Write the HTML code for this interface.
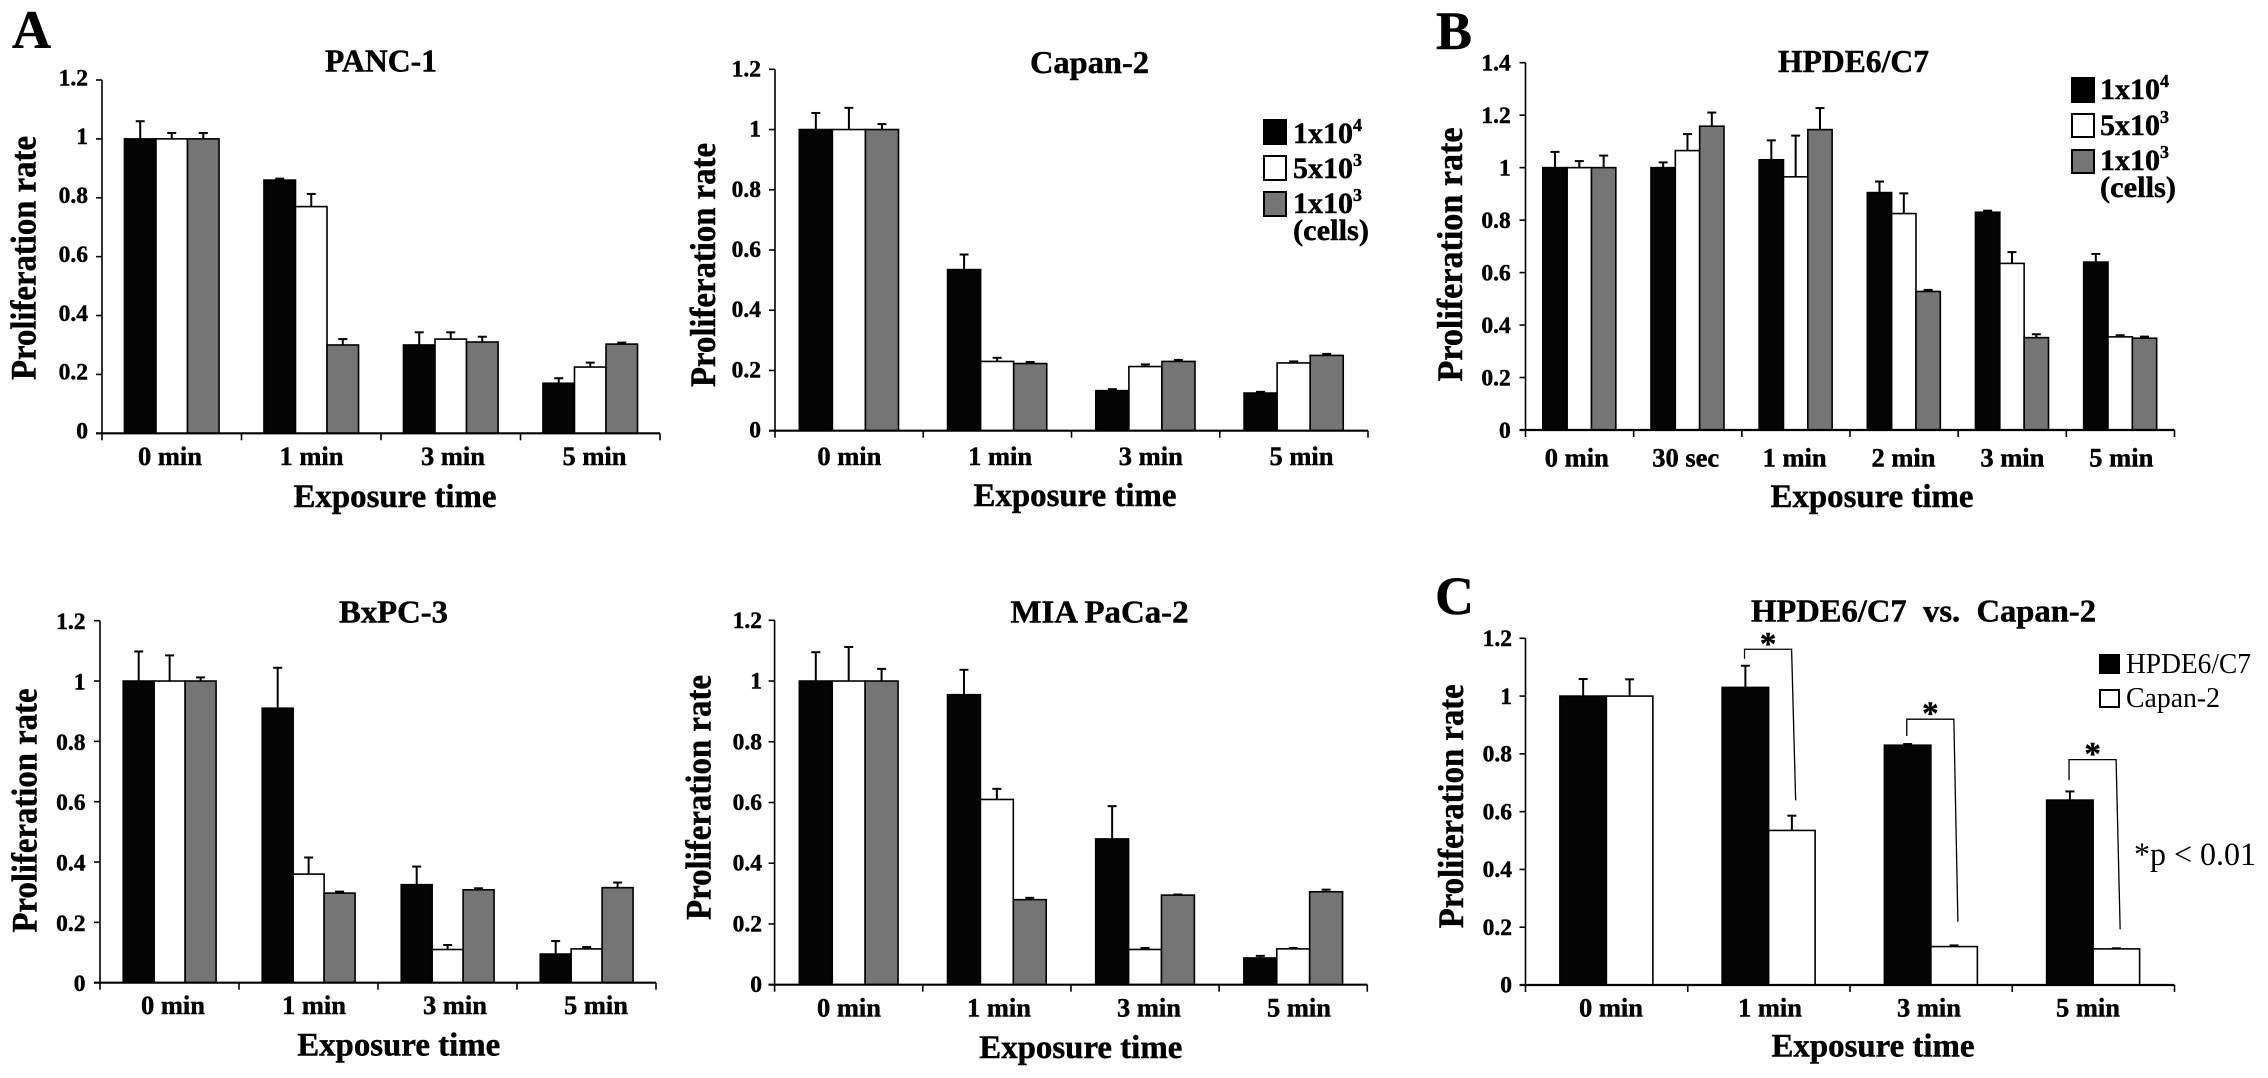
<!DOCTYPE html>
<html lang="en">
<head>
<meta charset="utf-8">
<title>Proliferation rate by exposure time</title>
<style>
html,body{margin:0;padding:0;background:#fff;}
#figure{display:block;width:2268px;height:1078px;background:#fff;}
text{font-family:"Liberation Serif","Times New Roman",serif;fill:#000;}
text[font-weight="700"]{stroke:#000;stroke-width:0.45px;}
</style>
</head>
<body>
<svg id="figure" xmlns="http://www.w3.org/2000/svg" width="2268" height="1078" viewBox="0 0 2268 1078">
  <text x="12" y="48" font-size="54" font-weight="700">A</text>
  <text x="1436" y="49" font-size="54" font-weight="700">B</text>
  <text x="1435" y="614" font-size="54" font-weight="700">C</text>

  <g id="legend-capan">
    <rect x="1264" y="120" width="22" height="24" fill="#000" stroke="#000" stroke-width="2"/>
    <rect x="1264" y="156" width="22" height="24" fill="#fff" stroke="#000" stroke-width="2"/>
    <rect x="1264" y="192" width="22" height="24" fill="#757575" stroke="#000" stroke-width="2"/>
    <text x="1293" y="143" font-size="30" font-weight="700">1x10<tspan font-size="18" dy="-12">4</tspan></text>
    <text x="1293" y="178" font-size="30" font-weight="700">5x10<tspan font-size="18" dy="-12">3</tspan></text>
    <text x="1293" y="213" font-size="30" font-weight="700">1x10<tspan font-size="18" dy="-12">3</tspan></text>
    <text x="1293" y="240" font-size="30" font-weight="700" textLength="76" lengthAdjust="spacingAndGlyphs">(cells)</text>
  </g>

  <g id="legend-hpde">
    <rect x="2072" y="78" width="22" height="24" fill="#000" stroke="#000" stroke-width="2"/>
    <rect x="2072" y="114" width="22" height="23" fill="#fff" stroke="#000" stroke-width="2"/>
    <rect x="2072" y="150" width="22" height="23" fill="#757575" stroke="#000" stroke-width="2"/>
    <text x="2100" y="99" font-size="30" font-weight="700">1x10<tspan font-size="18" dy="-12">4</tspan></text>
    <text x="2100" y="135" font-size="30" font-weight="700">5x10<tspan font-size="18" dy="-12">3</tspan></text>
    <text x="2100" y="170" font-size="30" font-weight="700">1x10<tspan font-size="18" dy="-12">3</tspan></text>
    <text x="2100" y="197" font-size="30" font-weight="700" textLength="76" lengthAdjust="spacingAndGlyphs">(cells)</text>
  </g>

  <g id="legend-compare">
    <rect x="2100" y="655" width="19" height="18" fill="#000" stroke="#000" stroke-width="2"/>
    <rect x="2100" y="690" width="19" height="17" fill="#fff" stroke="#000" stroke-width="2"/>
    <text x="2126" y="673" font-size="29" textLength="125" lengthAdjust="spacingAndGlyphs">HPDE6/C7</text>
    <text x="2126" y="707" font-size="29" textLength="94" lengthAdjust="spacingAndGlyphs">Capan-2</text>
  </g>

  <text x="2134" y="865" font-size="33" textLength="122" lengthAdjust="spacingAndGlyphs">*p &lt; 0.01</text>
</svg>

<script>
// ---- shared categories and tick labels ----
var minuteCategories = ['0 min', '1 min', '3 min', '5 min'];
var hpdeCategories = ['0 min', '30 sec', '1 min', '2 min', '3 min', '5 min'];
var ticks12 = [0, 0.2, 0.4, 0.6, 0.8, 1, 1.2];
var ticks14 = [0, 0.2, 0.4, 0.6, 0.8, 1, 1.2, 1.4];
var tickText12 = ['0', '0.2', '0.4', '0.6', '0.8', '1', '1.2'];
var tickText14 = ['0', '0.2', '0.4', '0.6', '0.8', '1', '1.2', '1.4'];

// ---- PANC-1 ----
var panc1Black = [1, 0.86, 0.30, 0.17];
var panc1White = [1, 0.77, 0.32, 0.225];
var panc1Gray = [1, 0.30, 0.31, 0.303];
var panc1BlackErr = [0.06, 0.005, 0.043, 0.017];
var panc1WhiteErr = [0.02, 0.043, 0.023, 0.015];
var panc1GrayErr = [0.02, 0.02, 0.018, 0.005];

// ---- Capan-2 ----
var capanBlack = [1, 0.535, 0.133, 0.125];
var capanWhite = [1, 0.23, 0.213, 0.225];
var capanGray = [1, 0.223, 0.23, 0.25];
var capanBlackErr = [0.055, 0.05, 0.005, 0.004];
var capanWhiteErr = [0.072, 0.012, 0.007, 0.005];
var capanGrayErr = [0.018, 0.005, 0.005, 0.005];

// ---- HPDE6/C7 ----
var hpdeBlack = [1, 1, 1.03, 0.905, 0.83, 0.64];
var hpdeWhite = [1, 1.065, 0.965, 0.825, 0.635, 0.355];
var hpdeGray = [1, 1.158, 1.145, 0.528, 0.352, 0.35];
var hpdeBlackErr = [0.06, 0.02, 0.074, 0.042, 0.006, 0.031];
var hpdeWhiteErr = [0.025, 0.063, 0.157, 0.077, 0.043, 0.006];
var hpdeGrayErr = [0.046, 0.052, 0.082, 0.006, 0.013, 0.006];

// ---- BxPC-3 ----
var bxpcBlack = [1, 0.91, 0.325, 0.095];
var bxpcWhite = [1, 0.36, 0.11, 0.112];
var bxpcGray = [1, 0.297, 0.308, 0.315];
var bxpcBlackErr = [0.098, 0.134, 0.06, 0.043];
var bxpcWhiteErr = [0.085, 0.055, 0.015, 0.006];
var bxpcGrayErr = [0.012, 0.005, 0.005, 0.017];

// ---- MIA PaCa-2 ----
var miaBlack = [1, 0.955, 0.48, 0.088];
var miaWhite = [1, 0.61, 0.116, 0.118];
var miaGray = [1, 0.28, 0.295, 0.306];
var miaBlackErr = [0.095, 0.082, 0.108, 0.007];
var miaWhiteErr = [0.112, 0.035, 0.005, 0.003];
var miaGrayErr = [0.04, 0.006, 0.002, 0.007];

// ---- HPDE6/C7 vs Capan-2 ----
var compareHpde = [1, 1.03, 0.83, 0.64];
var compareCapan = [1, 0.535, 0.133, 0.125];
var compareHpdeErr = [0.059, 0.075, 0.004, 0.03];
var compareCapanErr = [0.058, 0.051, 0.004, 0.002];
var bracketCategories = ['1 min', '3 min', '5 min'];
var bracketTop = [1.162, 0.92, 0.78];
var bracketLeftEnd = [1.129, 0.862, 0.709];
var bracketRightEnd = [0.639, 0.219, 0.193];

var NS = 'http://www.w3.org/2000/svg';
var root = document.getElementById('figure');
var FILLS = { black: '#040404', white: '#ffffff', gray: '#757575' };

function mk(parent, tag, attrs) {
  var el = document.createElementNS(NS, tag);
  for (var k in attrs) el.setAttribute(k, attrs[k]);
  parent.appendChild(el);
  return el;
}

function drawPanel(p) {
  var g = mk(root, 'g', {});
  
  

  var band = (p.x1 - p.x0) / p.categories.length;
  var yOf = function (v) { return p.y0 - (v / p.yMax) * (p.y0 - p.yTop); };
  var bandStart = function (i) { return p.x0 + i * band; };
  var barW = band * p.barFrac / p.series.length;

  // bars and error bars
  p.series.forEach(function (s) {
    s.values.forEach(function (v, i) {
      var x = bandStart(i) + band * p.barStart + s.index * barW;
      var top = yOf(v);
      var cx = x + barW / 2;
      var errTop = yOf(v + s.errors[i]);

      var stem = mk(g, 'line', { x1: cx, x2: cx, y1: top, y2: errTop, stroke: '#000', 'stroke-width': 2 });
      
      

      var cap = mk(g, 'line', { x1: cx - 4.5, x2: cx + 4.5, y1: errTop, y2: errTop, stroke: '#000', 'stroke-width': 2 });
      
      

      var bar = mk(g, 'rect', { x: x, y: top, width: barW, height: p.y0 - top, fill: FILLS[s.key], stroke: '#000', 'stroke-width': 1.6 });
      
      
    });
  });

  // y axis
  var yAxis = mk(g, 'line', { x1: p.x0, x2: p.x0, y1: yOf(p.yMax), y2: p.y0, stroke: '#000', 'stroke-width': 1.6 });
  
  

  p.ticks.forEach(function (t, i) {
    var y = yOf(t);
    var mark = mk(g, 'line', { x1: p.x0 - 6, x2: p.x0, y1: y, y2: y, stroke: '#000', 'stroke-width': 1.6 });
    
    

    var lab = mk(g, 'text', { x: p.tickRight, y: y + p.tickDy, 'font-size': 23.5, 'font-weight': 700, 'text-anchor': 'end' });
    
    
    lab.textContent = p.tickText[i];
  });

  // x axis
  var xAxis = mk(g, 'line', { x1: p.x0 - 6, x2: p.x1, y1: p.y0, y2: p.y0, stroke: '#000', 'stroke-width': 2.2 });
  
  

  for (var j = 0; j <= p.categories.length; j++) {
    var tx = bandStart(j);
    var xm = mk(g, 'line', { x1: tx, x2: tx, y1: p.y0, y2: p.y0 + 7, stroke: '#000', 'stroke-width': 1.6 });
    
    
  }

  p.categories.forEach(function (c, i) {
    var xl = mk(g, 'text', { x: p.labelStart + i * p.labelStep, y: p.labelBase, 'font-size': 26.5, 'font-weight': 700, 'text-anchor': 'middle' });
    
    
    xl.textContent = c;
  });

  // titles
  var title = mk(g, 'text', { x: p.titleCx, y: p.titleBase, 'font-size': 32, 'font-weight': 700, 'text-anchor': 'middle', textLength: p.titleLen, lengthAdjust: 'spacingAndGlyphs' });
  
  
  title.setAttributeNS('http://www.w3.org/XML/1998/namespace', 'xml:space', 'preserve');
  title.textContent = p.title;

  var xt = mk(g, 'text', { x: p.xTitleCx, y: p.xTitleBase, 'font-size': 33, 'font-weight': 700, 'text-anchor': 'middle', textLength: 203, lengthAdjust: 'spacingAndGlyphs' });
  
  
  xt.textContent = 'Exposure time';

  var yt = mk(g, 'text', { x: p.yTitleX, y: p.yTitleCy, 'font-size': 36, 'font-weight': 700, 'text-anchor': 'middle', textLength: p.yTitleLen, lengthAdjust: 'spacingAndGlyphs', transform: 'rotate(-90 ' + p.yTitleX + ' ' + p.yTitleCy + ')' });
  
  
  yt.textContent = 'Proliferation rate';

  return { g: g, yOf: yOf, bandStart: bandStart, band: band };
}

function threeSeries(black, white, gray, blackErr, whiteErr, grayErr) {
  return [
    { key: 'black', index: 0, values: black, errors: blackErr },
    { key: 'white', index: 1, values: white, errors: whiteErr },
    { key: 'gray', index: 2, values: gray, errors: grayErr }
  ];
}

drawPanel({
  slug: 'panc-1', title: 'PANC-1', categories: minuteCategories,
  series: threeSeries(panc1Black, panc1White, panc1Gray, panc1BlackErr, panc1WhiteErr, panc1GrayErr),
  ticks: ticks12, tickText: tickText12, yMax: 1.2,
  x0: 102, x1: 660, y0: 433.3, yTop: 80, barStart: 0.161, barFrac: 0.678,
  tickRight: 88, tickDy: 5.3, labelStart: 170, labelStep: 141.5, labelBase: 465,
  titleCx: 381, titleBase: 71.7, titleLen: 112,
  xTitleCx: 395, xTitleBase: 507, yTitleX: 35.7, yTitleCy: 258, yTitleLen: 244
});

drawPanel({
  slug: 'capan-2', title: 'Capan-2', categories: minuteCategories,
  series: threeSeries(capanBlack, capanWhite, capanGray, capanBlackErr, capanWhiteErr, capanGrayErr),
  ticks: ticks12, tickText: tickText12, yMax: 1.2,
  x0: 775, x1: 1368, y0: 430.7, yTop: 69.3, barStart: 0.164, barFrac: 0.669,
  tickRight: 761, tickDy: 7, labelStart: 849.4, labelStep: 150.7, labelBase: 465,
  titleCx: 1089.5, titleBase: 73, titleLen: 119,
  xTitleCx: 1075, xTitleBase: 506, yTitleX: 715, yTitleCy: 265, yTitleLen: 244
});

drawPanel({
  slug: 'hpde6-c7', title: 'HPDE6/C7', categories: hpdeCategories,
  series: threeSeries(hpdeBlack, hpdeWhite, hpdeGray, hpdeBlackErr, hpdeWhiteErr, hpdeGrayErr),
  ticks: ticks14, tickText: tickText14, yMax: 1.4,
  x0: 1525.5, x1: 2174.5, y0: 430, yTop: 62.7, barStart: 0.16, barFrac: 0.675,
  tickRight: 1510.7, tickDy: 8, labelStart: 1576.8, labelStep: 108.9, labelBase: 466.7,
  titleCx: 1853.5, titleBase: 72, titleLen: 151,
  xTitleCx: 1872, xTitleBase: 507, yTitleX: 1462, yTitleCy: 254.5, yTitleLen: 254
});

drawPanel({
  slug: 'bxpc-3', title: 'BxPC-3', categories: minuteCategories,
  series: threeSeries(bxpcBlack, bxpcWhite, bxpcGray, bxpcBlackErr, bxpcWhiteErr, bxpcGrayErr),
  ticks: ticks12, tickText: tickText12, yMax: 1.2,
  x0: 100, x1: 656, y0: 982.7, yTop: 620.7, barStart: 0.167, barFrac: 0.668,
  tickRight: 85.5, tickDy: 8.4, labelStart: 173, labelStep: 141, labelBase: 1014,
  titleCx: 393.5, titleBase: 622.5, titleLen: 109,
  xTitleCx: 398.7, xTitleBase: 1055.7, yTitleX: 36.6, yTitleCy: 810.5, yTitleLen: 244
});

drawPanel({
  slug: 'mia-paca-2', title: 'MIA PaCa-2', categories: minuteCategories,
  series: threeSeries(miaBlack, miaWhite, miaGray, miaBlackErr, miaWhiteErr, miaGrayErr),
  ticks: ticks12, tickText: tickText12, yMax: 1.2,
  x0: 774.6, x1: 1367.3, y0: 984.7, yTop: 620.3, barStart: 0.167, barFrac: 0.666,
  tickRight: 762, tickDy: 7.5, labelStart: 849, labelStep: 150, labelBase: 1016.7,
  titleCx: 1099.5, titleBase: 622.7, titleLen: 178,
  xTitleCx: 1080.8, xTitleBase: 1058, yTitleX: 710.3, yTitleCy: 797.5, yTitleLen: 245
});

var compare = drawPanel({
  slug: 'hpde-vs-capan', title: 'HPDE6/C7  vs.  Capan-2', categories: minuteCategories,
  series: [
    { key: 'black', index: 0, values: compareHpde, errors: compareHpdeErr },
    { key: 'white', index: 1, values: compareCapan, errors: compareCapanErr }
  ],
  ticks: ticks12, tickText: tickText12, yMax: 1.2,
  x0: 1525.5, x1: 2174.5, y0: 985, yTop: 638.3, barStart: 0.212, barFrac: 0.573,
  tickRight: 1512, tickDy: 7.7, labelStart: 1611, labelStep: 159, labelBase: 1016.7,
  titleCx: 1923.5, titleBase: 621.7, titleLen: 345,
  xTitleCx: 1873, xTitleBase: 1056.7, yTitleX: 1463, yTitleCy: 806.3, yTitleLen: 244
});

// significance brackets (categories 1, 2, 3 of the comparison chart)
bracketCategories.forEach(function (name, i) {
  var start = compare.bandStart(i + 1);
  var xLeft = start + compare.band * 0.35;
  var xMid = start + compare.band * 0.64;
  var xEnd = start + compare.band * 0.665;
  var yT = compare.yOf(bracketTop[i]);
  var d = 'M' + xLeft + ' ' + compare.yOf(bracketLeftEnd[i]) +
          ' L' + xLeft + ' ' + yT +
          ' L' + xMid + ' ' + yT +
          ' L' + xEnd + ' ' + compare.yOf(bracketRightEnd[i]);
  var br = mk(compare.g, 'path', { d: d, fill: 'none', stroke: '#000', 'stroke-width': 1.3 });
  
  

  var star = mk(compare.g, 'text', { x: (xLeft + xMid) / 2, y: yT + 5, 'font-size': 33, 'font-weight': 700, 'text-anchor': 'middle' });
  
  
  star.textContent = '*';
});
</script>
</body>
</html>
